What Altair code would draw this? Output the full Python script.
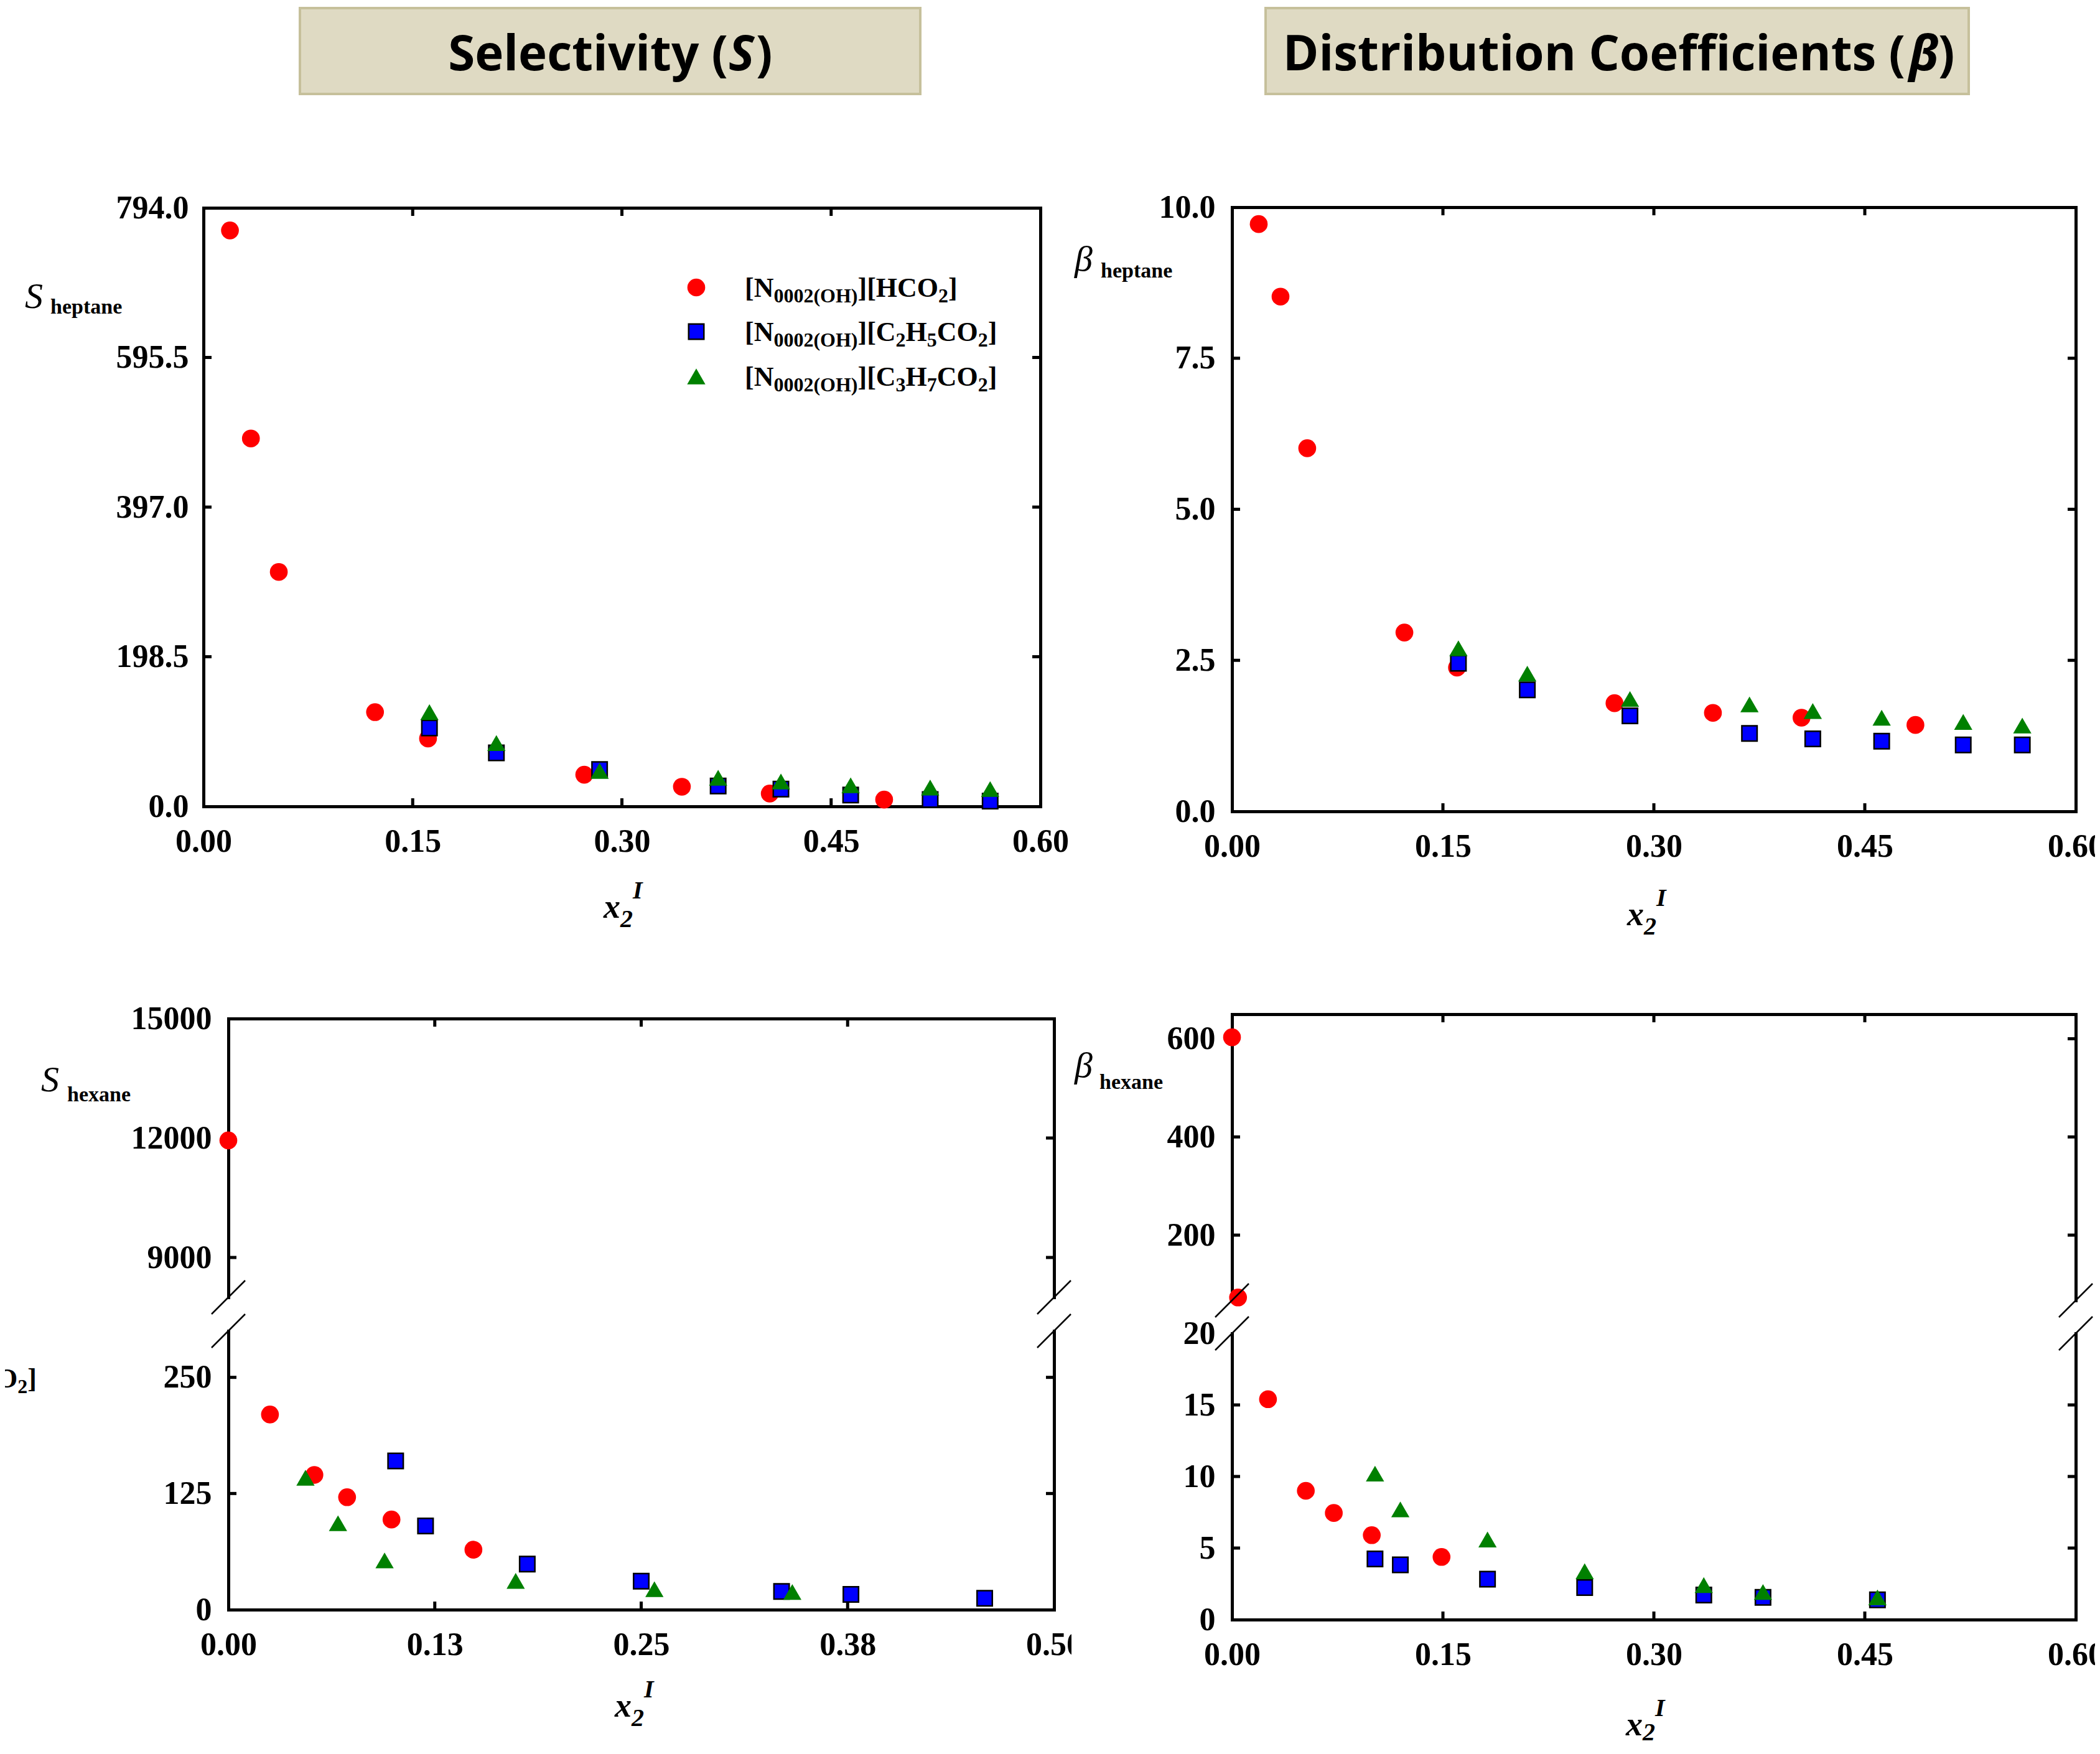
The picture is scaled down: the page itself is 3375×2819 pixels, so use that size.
import altair as alt
import pandas as pd

# ------------------------------------------------------------------ data
# Selectivity S, heptane (top-left panel)
s_hep_hco2_x = [0.019, 0.034, 0.054, 0.123, 0.161, 0.273, 0.343, 0.406, 0.488]
s_hep_hco2_y = [764, 488, 311, 125, 90, 42, 26, 17, 9]
s_hep_c2_x = [0.162, 0.210, 0.284, 0.369, 0.414, 0.464, 0.521, 0.564]
s_hep_c2_y = [104, 71, 49, 27, 23, 15, 9, 7]
s_hep_c3_x = [0.162, 0.210, 0.284, 0.369, 0.414, 0.464, 0.521, 0.564]
s_hep_c3_y = [125, 84, 47, 38, 33, 28, 25, 23]

# Distribution coefficient beta, heptane (top-right panel)
b_hep_hco2_x = [0.019, 0.0345, 0.0535, 0.1226, 0.160, 0.272, 0.342, 0.405, 0.486]
b_hep_hco2_y = [9.72, 8.52, 6.01, 2.96, 2.38, 1.79, 1.63, 1.55, 1.43]
b_hep_c2_x = [0.161, 0.210, 0.283, 0.368, 0.413, 0.462, 0.520, 0.562]
b_hep_c2_y = [2.45, 2.01, 1.58, 1.29, 1.20, 1.16, 1.10, 1.10]
b_hep_c3_x = [0.161, 0.210, 0.283, 0.368, 0.413, 0.462, 0.520, 0.562]
b_hep_c3_y = [2.70, 2.28, 1.86, 1.77, 1.66, 1.55, 1.48, 1.42]

# Selectivity S, hexane (bottom-left panel, broken axis)
s_hex_hco2_x = [0.0, 0.0252, 0.0521, 0.0719, 0.0988, 0.1484]
s_hex_hco2_y = [11940, 210, 145, 121, 97, 64.5]
s_hex_c2_x = [0.1013, 0.1194, 0.181, 0.250, 0.335, 0.377, 0.458]
s_hex_c2_y = [160, 90, 49, 30.7, 19.6, 16.4, 12.2]
s_hex_c3_x = [0.0467, 0.0664, 0.0946, 0.174, 0.258, 0.3415]
s_hex_c3_y = [142, 93, 53, 31, 22, 19]

# Distribution coefficient beta, hexane (bottom-right panel, broken axis)
b_hex_hco2_x = [0.0, 0.0043, 0.0256, 0.0525, 0.0724, 0.0994, 0.149]
b_hex_hco2_y = [603, 73, 15.4, 9.0, 7.45, 5.9, 4.38]
b_hex_c2_x = [0.1017, 0.1197, 0.1817, 0.2508, 0.3355, 0.3776, 0.459]
b_hex_c2_y = [4.24, 3.83, 2.83, 2.24, 1.72, 1.55, 1.38]
b_hex_c3_x = [0.1017, 0.1197, 0.1817, 0.2508, 0.3355, 0.3776, 0.459]
b_hex_c3_y = [10.2, 7.7, 5.6, 3.38, 2.41, 1.93, 1.55]

# axes: domains and tick labels
x_dom_06 = [0.0, 0.60]
x_ticks_06 = [0.0, 0.15, 0.30, 0.45, 0.60]
x_dom_05 = [0.0, 0.50]
x_ticks_05 = [0.0, 0.125, 0.25, 0.375, 0.50]
y_dom_s_hep = [0.0, 794.0]
y_ticks_s_hep = [0.0, 198.5, 397.0, 595.5, 794.0]
y_dom_b_hep = [0.0, 10.0]
y_ticks_b_hep = [0.0, 2.5, 5.0, 7.5, 10.0]
y_dom_s_hex_hi = [8000, 15000]
y_ticks_s_hex_hi = [9000, 12000, 15000]
y_dom_s_hex_lo = [0, 300]
y_ticks_s_hex_lo = [0, 125, 250]
y_dom_b_hex_hi = [67, 650]
y_ticks_b_hex_hi = [200, 400, 600]
y_dom_b_hex_lo = [0, 20]
y_ticks_b_hex_lo = [0, 5, 10, 15, 20]

# text
title_left = ("Selectivity (", "S", ")")
title_right = ("Distribution Coefficients (", "\u03b2", ")")
legend_rows = [
    [("[N", 0), ("0002(OH)", 1), ("][HCO", 0), ("2", 1), ("]", 0)],
    [("[N", 0), ("0002(OH)", 1), ("][C", 0), ("2", 1), ("H", 0), ("5", 1), ("CO", 0), ("2", 1), ("]", 0)],
    [("[N", 0), ("0002(OH)", 1), ("][C", 0), ("3", 1), ("H", 0), ("7", 1), ("CO", 0), ("2", 1), ("]", 0)],
]
stray_label = [("O", 0), ("2", 1), ("]", 0)]

# ------------------------------------------------------------------ style / layout
FONT = "Liberation Serif"
ONE = pd.DataFrame({"k": [0]})
OFF = 8                 # page margin: page coordinate = view coordinate + 8
VW, VH = 3359, 2799     # whole drawing area
TICK = 13
BOX_FILL = "#DFDAC3"
BOX_STROKE = "#C6C09B"
STYLES = [
    dict(shape="circle", color="#FF0000", size=820),
    dict(shape="square", color="#0000FF", size=600, stroke="black", strokeWidth=2.5),
    dict(shape="triangle-up", color="#008000", size=860),
]
TNRB = {"[": 333, "]": 333, "(": 333, ")": 333, "N": 722, "H": 778, "C": 722, "O": 778}


def tw(s, size):
    return sum(TNRB.get(c, 500) for c in s) * size / 1000.0


def T(s, x, y, size, weight="bold", style="normal", font=FONT, align="left"):
    return alt.Chart(ONE).mark_text(
        text=s, font=font, fontSize=size, fontWeight=weight, fontStyle=style,
        align=align, baseline="alphabetic", color="black"
    ).encode(x=alt.value(x - OFF), y=alt.value(y - OFF))


def chem(parts, x, y, main=44, sub=32, shift=9):
    out = []
    for s, is_sub in parts:
        size = sub if is_sub else main
        out.append(T(s, x, y + (shift if is_sub else 0), size))
        x += tw(s, size)
    return out


def ytitle(sym, subtxt, x, y, xs, ys):
    return [T(sym, x, y, 58, weight="normal", style="italic"), T(subtxt, xs, ys, 34)]


def xtitle(x, y, sub_dy=15):
    return [T("x", x, y, 54, style="italic"),
            T("2", x + 27, y + sub_dy, 40, style="italic"),
            T("I", x + 47, y - 31, 40, style="italic")]


def title_box(x1, x2, y1, y2, parts, x0, xsym, xclose, yb):
    rect = alt.Chart(ONE).mark_rect(fill=BOX_FILL, stroke=BOX_STROKE, strokeWidth=4).encode(
        x=alt.value(x1 - OFF), x2=alt.value(x2 - OFF), y=alt.value(y1 - OFF), y2=alt.value(y2 - OFF))
    return [rect,
            T(parts[0], x0, yb, 78, font="Open Sans", align="right"),
            T(parts[1], xsym, yb, 78, font="Open Sans", style="italic"),
            T(parts[2], xclose, yb, 78, font="Open Sans")]


def slash(cx, cy):
    cx, cy = cx - OFF, cy - OFF
    return alt.Chart(ONE).mark_rule(color="black", strokeWidth=2.5).encode(
        x=alt.value(cx - 27), y=alt.value(cy + 27), x2=alt.value(cx + 27), y2=alt.value(cy - 27))


def cover(x1, x2, y1, y2):
    return alt.Chart(ONE).mark_rect(fill="white").encode(
        x=alt.value(x1 - OFF), x2=alt.value(x2 - OFF), y=alt.value(y1 - OFF), y2=alt.value(y2 - OFF))


def sym(style, x, y):
    return alt.Chart(ONE).mark_point(filled=True, opacity=1, **style).encode(
        x=alt.value(x - OFF), y=alt.value(y - OFF))


def scale(d, r):
    return alt.Scale(domain=d, range=r, nice=False, zero=False)


def ax(orient, offset, values=None, fmt=None, labels=True, pad=27):
    kw = dict(orient=orient, offset=offset, ticks=False, tickSize=0, grid=False, domain=True,
              domainColor="black", domainWidth=5, domainCap="square", labels=labels, title=None)
    if labels:
        kw.update(values=values, format=fmt, labelFont=FONT, labelFontSize=52,
                  labelFontWeight="bold", labelColor="black", labelPadding=pad,
                  labelFlush=False, labelOverlap=False)
    return alt.Axis(**kw)


def frame(xs, ys):
    return pd.DataFrame({"x": xs, "y": ys})


def segment(P, seg):
    xl, xr = P["xr"][0] - OFF, P["xr"][1] - OFF
    yb, yt = seg["yr"][0] - OFF, seg["yr"][1] - OFF
    xs = scale(P["xd"], [xl, xr])
    ys = scale(seg["yd"], [yb, yt])
    lo, hi = seg["yd"]
    dfs = [d[(d.y >= lo - 1e-9) & (d.y <= hi)] for d in P["series"]]
    alldf = pd.concat(dfs)
    layers = []
    layers.append(alt.Chart(alldf).mark_point(opacity=0).encode(
        x=alt.X("x:Q", scale=xs,
                axis=ax("bottom", yb - VH, P["xvals"], ".2f", pad=31) if seg["bottom"] else None),
        y=alt.Y("y:Q", scale=ys, axis=ax("left", -xl, seg["yvals"], seg["yfmt"], pad=P["ypad"]))))
    layers.append(alt.Chart(alldf).mark_point(opacity=0).encode(
        x=alt.X("x:Q", scale=xs, axis=ax("top", -yt, labels=False) if seg["top"] else None),
        y=alt.Y("y:Q", scale=ys, axis=ax("right", xr - VW, labels=False))))
    yin = pd.DataFrame({"v": [v for v in seg["yvals"] if lo < v < hi]})
    xin = pd.DataFrame({"v": [v for v in P["xvals"] if P["xd"][0] < v < P["xd"][1]]})
    tk = dict(color="black", strokeWidth=5)
    layers.append(alt.Chart(yin).mark_rule(**tk).encode(
        y=alt.Y("v:Q", scale=ys, axis=None), x=alt.value(xl), x2=alt.value(xl + TICK)))
    layers.append(alt.Chart(yin).mark_rule(**tk).encode(
        y=alt.Y("v:Q", scale=ys, axis=None), x=alt.value(xr - TICK), x2=alt.value(xr)))
    if seg["top"]:
        layers.append(alt.Chart(xin).mark_rule(**tk).encode(
            x=alt.X("v:Q", scale=xs, axis=None), y=alt.value(yt), y2=alt.value(yt + TICK)))
    if seg["bottom"]:
        layers.append(alt.Chart(xin).mark_rule(**tk).encode(
            x=alt.X("v:Q", scale=xs, axis=None), y=alt.value(yb - TICK), y2=alt.value(yb)))
    for d, st in zip(dfs, STYLES):
        if len(d):
            layers.append(alt.Chart(d).mark_point(filled=True, opacity=1, **st).encode(
                x=alt.X("x:Q", scale=xs, axis=None), y=alt.Y("y:Q", scale=ys, axis=None)))
    return layers


# ------------------------------------------------------------------ panels (page pixel frame)
legend = []
for i, (row_y, st) in enumerate(zip([462, 533, 605], STYLES)):
    legend.append(sym(st, 1119, row_y))
    legend += chem(legend_rows[i], 1197, row_y + 15)

TLp = dict(
    xd=x_dom_06, xr=[327, 1672], xvals=x_ticks_06, ypad=24,
    series=[frame(s_hep_hco2_x, s_hep_hco2_y), frame(s_hep_c2_x, s_hep_c2_y), frame(s_hep_c3_x, s_hep_c3_y)],
    segs=[dict(yd=y_dom_s_hep, yr=[1296, 334], yvals=y_ticks_s_hep, yfmt=".1f", top=True, bottom=True)],
)
TRp = dict(
    xd=x_dom_06, xr=[1980, 3336], xvals=x_ticks_06, ypad=27,
    series=[frame(b_hep_hco2_x, b_hep_hco2_y), frame(b_hep_c2_x, b_hep_c2_y), frame(b_hep_c3_x, b_hep_c3_y)],
    segs=[dict(yd=y_dom_b_hep, yr=[1304, 333], yvals=y_ticks_b_hep, yfmt=".1f", top=True, bottom=True)],
)
BLp = dict(
    xd=x_dom_05, xr=[367, 1694], xvals=x_ticks_05, ypad=27,
    series=[frame(s_hex_hco2_x, s_hex_hco2_y), frame(s_hex_c2_x, s_hex_c2_y), frame(s_hex_c3_x, s_hex_c3_y)],
    segs=[dict(yd=y_dom_s_hex_hi, yr=[2085, 1637], yvals=y_ticks_s_hex_hi, yfmt="d", top=True, bottom=False),
          dict(yd=y_dom_s_hex_lo, yr=[2587, 2139], yvals=y_ticks_s_hex_lo, yfmt="d", top=False, bottom=True)],
)
BRp = dict(
    xd=x_dom_06, xr=[1980, 3336], xvals=x_ticks_06, ypad=27,
    series=[frame(b_hex_hco2_x, b_hex_hco2_y), frame(b_hex_c2_x, b_hex_c2_y), frame(b_hex_c3_x, b_hex_c3_y)],
    segs=[dict(yd=y_dom_b_hex_hi, yr=[2090, 1630], yvals=y_ticks_b_hex_hi, yfmt="d", top=True, bottom=False),
          dict(yd=y_dom_b_hex_lo, yr=[2603, 2143], yvals=y_ticks_b_hex_lo, yfmt="d", top=False, bottom=True)],
)

layers = []
for P in (TLp, TRp, BLp, BRp):
    for seg in P["segs"]:
        layers += segment(P, seg)

layers += [cover(1722, 1770, 2615, 2690)]
layers += title_box(482, 1479, 13, 151, title_left, 1170, 1171, 1215, 113)
layers += title_box(2034, 3164, 13, 151, title_right, 3062, 3068, 3115, 113)
layers += ytitle("S", "heptane", 40, 495, 81, 504)
layers += ytitle("\u03b2", "heptane", 1727, 435, 1769, 446)
layers += ytitle("S", "hexane", 66, 1754, 108, 1770)
layers += ytitle("\u03b2", "hexane", 1727, 1731, 1767, 1750)
layers += xtitle(970, 1475) + xtitle(2615, 1487) + xtitle(988, 2759) + xtitle(2613, 2789, sub_dy=8)
layers += legend
layers += chem(stray_label, -6, 2230)
layers += [slash(367, 2085), slash(367, 2139), slash(1694, 2085), slash(1694, 2139),
           slash(1980, 2090), slash(1980, 2143), slash(3336, 2090), slash(3336, 2143)]

chart = alt.layer(*layers).resolve_scale(
    x="independent", y="independent"
).resolve_axis(
    x="independent", y="independent"
).properties(
    width=VW, height=VH, autosize=alt.AutoSizeParams(type="none"), padding=0, background="white"
).configure_view(strokeWidth=0)

chart.save("out.html", embed_options={"renderer": "svg", "actions": False})
